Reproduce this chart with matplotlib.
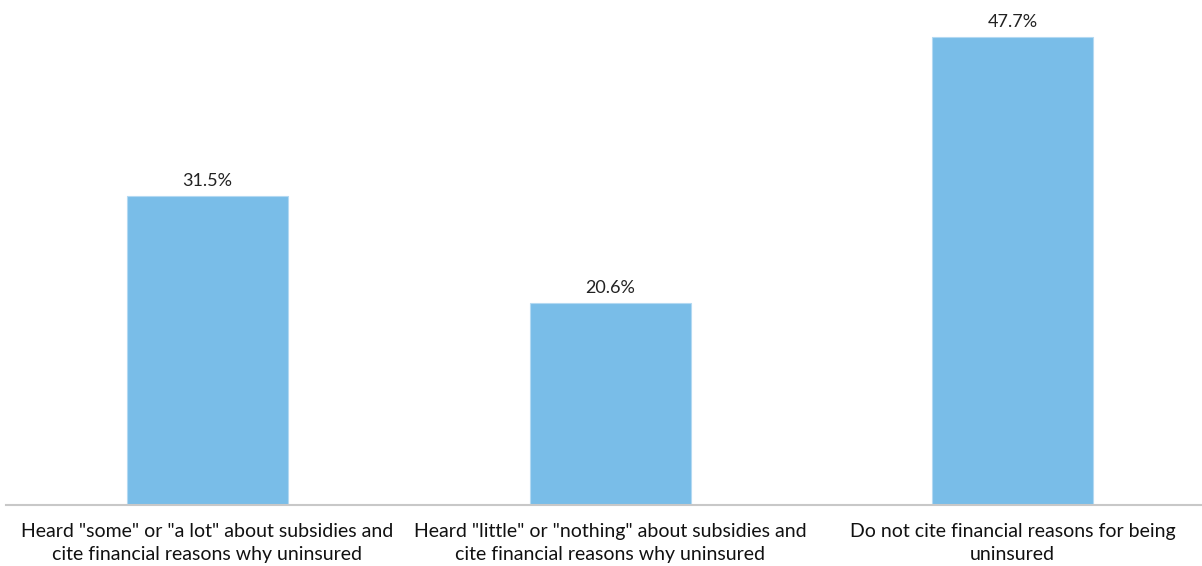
import matplotlib
matplotlib.use("Agg")
import matplotlib.pyplot as plt

categories = [
    'Heard "some" or "a lot" about subsidies and\ncite financial reasons why uninsured',
    'Heard "little" or "nothing" about subsidies and\ncite financial reasons why uninsured',
    'Do not cite financial reasons for being\nuninsured',
]
values = [31.5, 20.6, 47.7]
value_labels = ["31.5%", "20.6%", "47.7%"]

plt.rcParams["font.family"] = ["Lato", "DejaVu Sans"]

W, H = 1202, 566
fig = plt.figure(figsize=(W / 100, H / 100), dpi=100)
ax = fig.add_axes([6 / W, 61 / H, 1 - 6 / W, 505 / H])

x = list(range(len(categories)))
ax.bar(x, values, width=0.4, color="#79bde8", edgecolor="#b3d9f2", linewidth=0.8, zorder=2)

for xi, v, lab in zip(x, values, value_labels):
    ax.text(xi, v + 0.7, lab, ha="center", va="bottom", fontsize=13, color="#222222")

ax.set_xlim(-0.5, 2.47)
ax.set_ylim(0, 51.5)
ax.set_yticks([])
ax.set_xticks(x)
ax.set_xticklabels(categories, fontsize=14, color="#111111", linespacing=1.42)
ax.tick_params(axis="x", length=0, pad=13)

for s in ["top", "right", "left"]:
    ax.spines[s].set_visible(False)
ax.spines["bottom"].set_color("#c8c8c8")
ax.spines["bottom"].set_linewidth(1.5)

fig.savefig("out.png", dpi=100)
